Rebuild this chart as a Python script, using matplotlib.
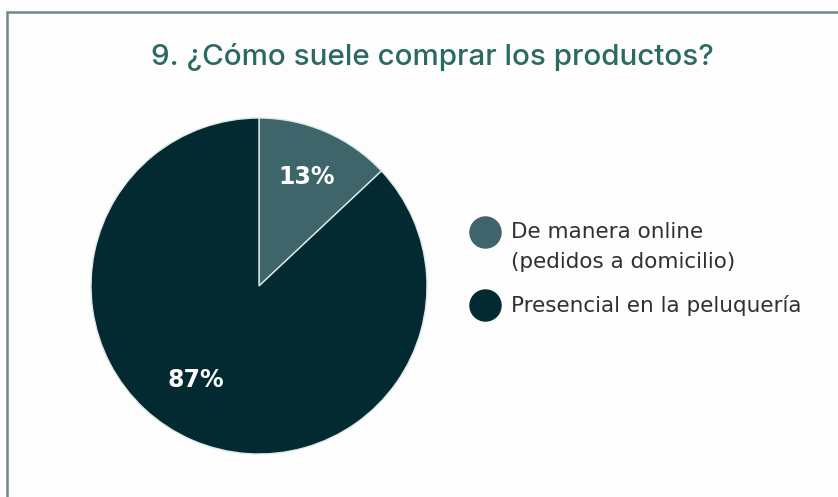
import matplotlib.pyplot as plt
from matplotlib.patches import Rectangle

categorias = ["De manera online", "(pedidos a domicilio)", "Presencial en la peluquería"]
porcentajes = [13, 87]
colores = ["#3e6569", "#032a30"]

W, H = 838, 497
fig = plt.figure(figsize=(W / 100, H / 100), dpi=100)
fig.patch.set_facecolor("#fdfdfd")

# marco del recuadro
fig.patches.append(Rectangle((7 / W, -0.1), 1.2, (H - 12) / H + 0.1, transform=fig.transFigure,
                             fill=False, edgecolor="#6f878b", linewidth=1.8))

ax = fig.add_axes([0, 0, 1, 1])
cx, cy, r = 259, H - 286, 168
wedges, _ = ax.pie(porcentajes, colors=colores, startangle=90, counterclock=False,
                   center=(cx, cy), radius=r, frame=True,
                   wedgeprops=dict(edgecolor="#dfe8e8", linewidth=1))
ax.set_xlim(0, W)
ax.set_ylim(0, H)
ax.set_aspect("equal")
ax.axis("off")

ax.text(307, H - 177, f"{porcentajes[0]}%", color="white", fontsize=17, fontweight="bold",
        ha="center", va="center")
ax.text(196, H - 380, f"{porcentajes[1]}%", color="white", fontsize=17, fontweight="bold",
        ha="center", va="center")

fig.text(432 / W, 1 - 57 / H, "9. ¿Cómo suele comprar los productos?", color="#2b6a62",
         fontsize=21.3, family="Inter", fontweight="medium", ha="center", va="center")

# leyenda
ax.scatter([485], [H - 232], s=500, color=colores[0], zorder=3)
ax.scatter([485], [H - 305], s=500, color=colores[1], zorder=3)
txt = dict(color="#303030", fontsize=15.5, ha="left", va="center")
ax.text(511, H - 232, categorias[0], **txt)
ax.text(511, H - 262, categorias[1], **txt)
ax.text(511, H - 305, categorias[2], **txt)

fig.savefig("out.png", dpi=100, facecolor=fig.get_facecolor())
